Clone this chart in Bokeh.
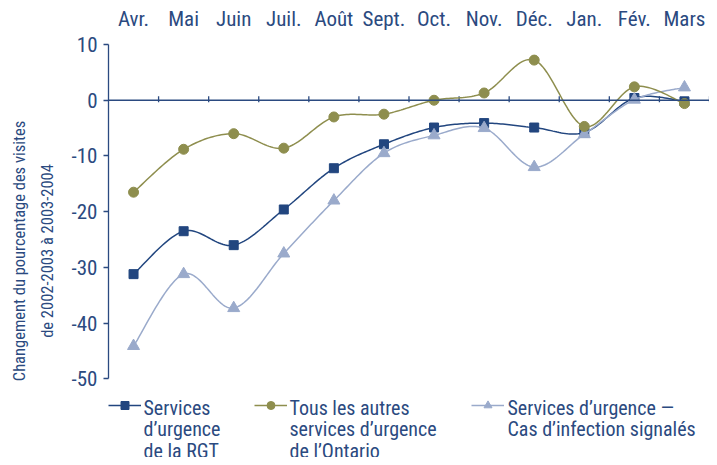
import numpy as np
from bokeh.plotting import figure
from bokeh.models import Range1d, LinearAxis, FixedTicker, Legend, LegendItem, Label, Span
from bokeh.embed import file_html
from bokeh.resources import INLINE

months = ["Avr.", "Mai", "Juin", "Juil.", "Août", "Sept.", "Oct.", "Nov.", "Déc.", "Jan.", "Fév.", "Mars"]
rgt = [-31.2, -23.5, -26.0, -19.6, -12.2, -7.9, -4.9, -4.1, -4.9, -5.8, 0.4, -0.2]
autres = [-16.5, -8.8, -6.0, -8.6, -3.0, -2.5, 0.0, 1.3, 7.2, -4.7, 2.4, -0.6]
infection = [-44.1, -31.2, -37.3, -27.5, -18.0, -9.5, -6.3, -5.0, -12.0, -6.1, 0.1, 2.3]
y_ticks = [-50, -40, -30, -20, -10, 0, 10]
y_tick_labels = ["-50", "-40", "-30", "-20", "-10", "0", "10"]

legend_rgt = ["Services", "d’urgence", "de la RGT"]
legend_autres = ["Tous les autres", "services d’urgence", "de l’Ontario"]
legend_inf = ["Services d’urgence —", "Cas d’infection signalés"]

TXT = "#2B4A80"
C_RGT = "#22467F"
C_AUT = "#8E8E4E"
C_INF = "#9AAACB"
FONT = "'Roboto Condensed', 'Liberation Sans Narrow', 'DejaVu Sans Condensed', sans-serif"

W, H = 709, 457
xc = np.arange(len(months)) + 0.5  # category centres on a 0..12 scale
x_bounds = np.arange(1, len(months) + 1)  # separators between months


def smooth(x, y, n=24):
    """Bezier smoothing (Catmull-Rom style) of a polyline, as in office charts."""
    x = np.asarray(x, float)
    y = np.asarray(y, float)
    xs, ys = [x[0]], [y[0]]
    m = len(x)
    for i in range(m - 1):
        p0 = np.array([x[max(i - 1, 0)], y[max(i - 1, 0)]])
        p1 = np.array([x[i], y[i]])
        p2 = np.array([x[i + 1], y[i + 1]])
        p3 = np.array([x[min(i + 2, m - 1)], y[min(i + 2, m - 1)]])
        c1 = p1 + (p2 - p0) / 6.0
        c2 = p2 - (p3 - p1) / 6.0
        t = np.linspace(0, 1, n + 1)[1:]
        b = ((1 - t) ** 3)[:, None] * p1 + (3 * (1 - t) ** 2 * t)[:, None] * c1 \
            + (3 * (1 - t) * t ** 2)[:, None] * c2 + (t ** 3)[:, None] * p2
        xs.extend(b[:, 0])
        ys.extend(b[:, 1])
    return xs, ys


# the frame extends below -50 to leave room for the legend; the y axis is bounded
p = figure(width=W, height=H, x_range=Range1d(0, 12), y_range=Range1d(-64.1, 10),
           output_backend="svg", toolbar_location=None,
           x_axis_location=None, y_axis_location=None,
           min_border_left=108, min_border_right=0, min_border_top=44, min_border_bottom=0)
p.outline_line_color = None
p.xgrid.visible = False
p.ygrid.visible = False
p.background_fill_color = "white"

# y axis
yax = LinearAxis(ticker=FixedTicker(ticks=y_ticks), bounds=(-50, 10),
                 major_label_overrides={t: s for t, s in zip(y_ticks, y_tick_labels)},
                 axis_label="Changement du pourcentage des visites\nde 2002-2003 à 2003-2004")
yax.axis_line_color = TXT
yax.axis_line_width = 1.3
yax.major_tick_line_color = TXT
yax.major_tick_line_width = 1.3
yax.major_tick_out = 5
yax.major_tick_in = 0
yax.minor_tick_line_color = None
yax.major_label_text_font = FONT
yax.major_label_text_font_size = "21px"
yax.major_label_text_color = TXT
yax.major_label_standoff = 6
yax.axis_label_text_font = FONT
yax.axis_label_text_font_size = "16.5px"
yax.axis_label_text_line_height = 1.45
yax.axis_label_text_font_style = "normal"
yax.axis_label_text_color = TXT
yax.axis_label_standoff = 12
p.add_layout(yax, "left")

# month labels on top
top = LinearAxis(ticker=FixedTicker(ticks=list(xc)),
                 major_label_overrides={float(v): m for v, m in zip(xc, months)})
top.axis_line_color = None
top.major_tick_line_color = None
top.minor_tick_line_color = None
top.major_label_text_font = FONT
top.major_label_text_font_size = "21px"
top.major_label_text_color = TXT
top.major_label_standoff = 8
p.add_layout(top, "above")

# zero line with small ticks between months
p.add_layout(Span(location=0, dimension="width", line_color=TXT, line_width=1.3))
p.segment(x0=x_bounds, y0=-0.35, x1=x_bounds, y1=0.7, line_color=TXT, line_width=1.3)

# (data, colour, marker, size, legend lines, legend glyph x, legend text x) -- screen px in frame
series = [
    (rgt, C_RGT, "square", 9, legend_rgt, 0, 35),
    (infection, C_INF, "triangle", 12, legend_inf, 363, 399),
    (autres, C_AUT, "circle", 10, legend_autres, 146, 181),
]

for vals, col, marker, size, ltxt, gx, tx in series:
    sx, sy = smooth(xc, vals)
    rl = p.line(sx, sy, line_color=col, line_width=1.5)
    rs = p.scatter(xc, vals, marker=marker, size=size, fill_color=col, line_color=col)
    leg = Legend(items=[LegendItem(label=" ", renderers=[rl, rs])],
                 location=(gx, 42), glyph_width=33, glyph_height=20, label_height=20,
                 label_width=1, padding=0, margin=0, spacing=0, label_standoff=0,
                 border_line_color=None, background_fill_alpha=0, border_line_alpha=0,
                 label_text_font_size="1px")
    p.add_layout(leg)
    for k, line in enumerate(ltxt):
        p.add_layout(Label(x=tx, y=50 - 21.5 * k, x_units="screen", y_units="screen",
                           text=line, text_font=FONT, text_font_size="20px",
                           text_color=TXT, text_baseline="alphabetic"))

open("out.html", "w").write(file_html(p, INLINE))
